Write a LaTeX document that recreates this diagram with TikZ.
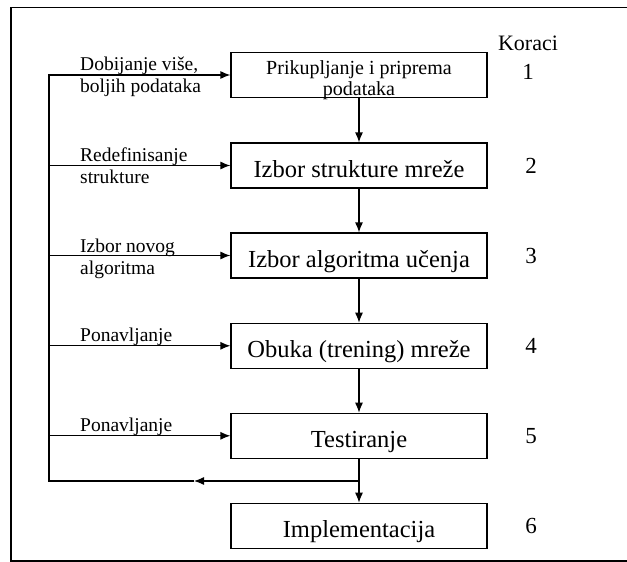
\documentclass[tikz,border=0pt]{standalone}
\usepackage{fontspec}
\setmainfont{Liberation Serif}
\usetikzlibrary{arrows.meta}

\newcommand{\stacklines}[2][t]{\begin{tabular}[#1]{@{}c@{}}#2\end{tabular}}

\begin{document}
\begin{tikzpicture}[x=1pt, y=-1pt,
    box/.style={draw, line width=1.2pt, minimum width=256pt, minimum height=45pt,
        inner sep=0pt, text height=24pt, text depth=0pt, font=\fontsize{24.5}{28}\selectfont},
    lbl/.style={anchor=base west, inner sep=0pt, font=\fontsize{19.5}{22}\selectfont},
    num/.style={inner sep=0pt, font=\fontsize{23}{26}\selectfont},
    ln/.style={line width=1.2pt},
    arr/.style={line width=1.2pt, -{Latex[length=10pt, width=8pt]}}]

    \useasboundingbox (0,0) rectangle (627,562);
    \draw[ln] (634,7.5) -- (11,7.5) -- (11,561) -- (634,561);

    \node[box, text height=40pt, font=\fontsize{20}{21}\selectfont] (b1) at (359,75)
        {\stacklines[b]{Prikupljanje i priprema\\podataka}};
    \node[box] (b2) at (359,165.5) {Izbor strukture mreže};
    \node[box] (b3) at (359,255.5) {Izbor algoritma učenja};
    \node[box] (b4) at (359,345.8) {Obuka (trening) mreže};
    \node[box] (b5) at (359,435.8) {Testiranje};
    \node[box] (b6) at (359,525.8) {Implementacija};

    \node[num, font=\fontsize{22}{24}\selectfont] (koraci) at (528,43) {Koraci};
    \node[num] (n1) at (528,72) {1};
    \node[num] (n2) at (531,166) {2};
    \node[num] (n3) at (531,256) {3};
    \node[num] (n4) at (531,346) {4};
    \node[num] (n5) at (531,436) {5};
    \node[num] (n6) at (531,526) {6};

    \node[lbl] (l1) at (80,70.5) {\begin{tabular}[t]{@{}l@{}}Dobijanje više,\\boljih podataka\end{tabular}};
    \node[lbl] (l2) at (80,161) {\begin{tabular}[t]{@{}l@{}}Redefinisanje\\strukture\end{tabular}};
    \node[lbl] (l3) at (80,252) {\begin{tabular}[t]{@{}l@{}}Izbor novog\\algoritma\end{tabular}};
    \node[lbl] (l4) at (80,341) {Ponavljanje};
    \node[lbl] (l5) at (80,431) {Ponavljanje};

    \coordinate (fbtop) at (49,75);
    \coordinate (fbbot) at (49,481);
    \coordinate (split) at (359,481);
    \coordinate (back) at (194,481);

    \foreach \a/\b in {b1/b2, b2/b3, b3/b4, b4/b5}
        \draw[arr] (\a) -- (\b);
    \draw[ln] (b5) -- (split);
    \draw[arr] (split) -- (b6);
    \draw[arr] (split) -- (back);
    \draw[arr] (back) -- (fbbot) -- (fbtop) -- (b1.west);
    \foreach \b in {b2, b3, b4, b5}
        \draw[arr] (fbtop |- \b.west) -- (\b.west);
\end{tikzpicture}
\end{document}
